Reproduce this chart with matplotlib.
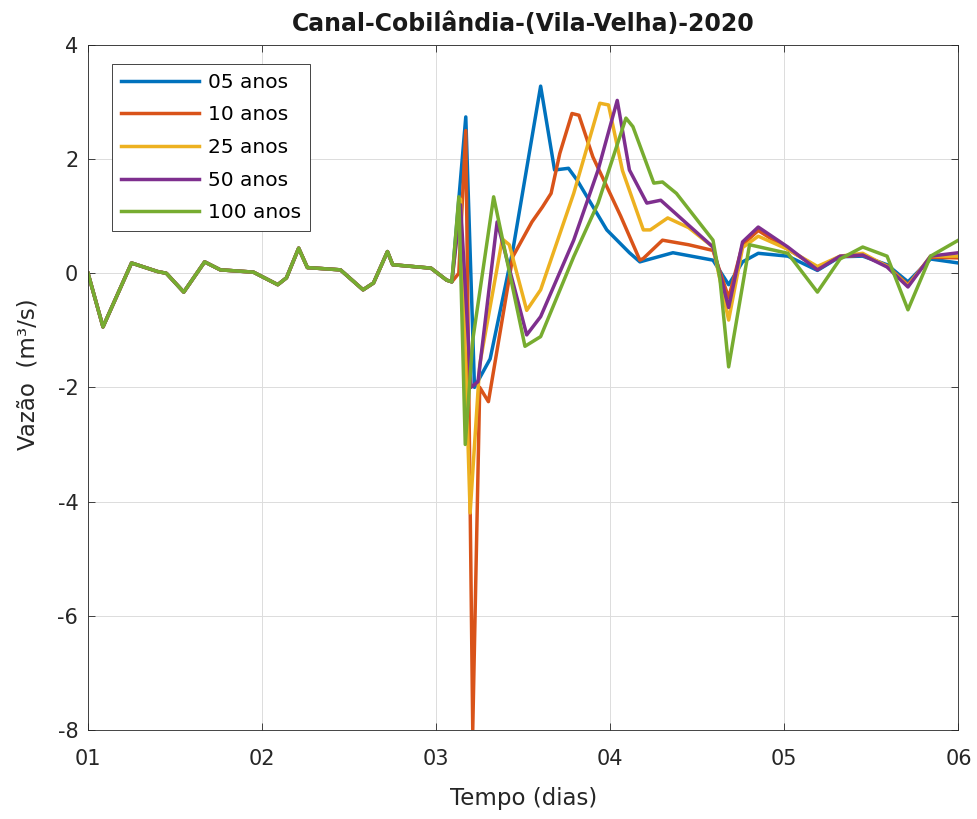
import matplotlib
matplotlib.use("Agg")
import matplotlib.pyplot as plt

plt.rcParams["font.family"] = ["DejaVu Sans"]
plt.rcParams["axes.unicode_minus"] = False

# common start (all return periods overlap before day 3)
t_base = [1.00, 1.086, 1.25, 1.40, 1.45, 1.55, 1.67, 1.76, 1.95, 2.09, 2.14, 2.21,
          2.26, 2.45, 2.58, 2.64, 2.72, 2.75, 2.97, 3.06, 3.09]
q_base = [0.00, -0.94, 0.18, 0.03, 0.00, -0.33, 0.20, 0.06, 0.02, -0.20, -0.08, 0.44,
          0.10, 0.06, -0.29, -0.17, 0.38, 0.15, 0.09, -0.12, -0.15]

t_05 = [3.17, 3.22, 3.31, 3.44, 3.60, 3.68, 3.76, 3.81, 3.98, 4.11, 4.17, 4.36, 4.59,
        4.68, 4.76, 4.85, 5.02, 5.19, 5.32, 5.45, 5.59, 5.71, 5.84, 6.00]
q_05 = [2.74, -2.00, -1.50, 0.40, 3.28, 1.81, 1.84, 1.63, 0.76, 0.36, 0.20, 0.36, 0.23,
        -0.20, 0.20, 0.35, 0.30, 0.05, 0.29, 0.30, 0.15, -0.15, 0.25, 0.18]

t_10 = [3.13, 3.17, 3.21, 3.25, 3.30, 3.44, 3.55, 3.61, 3.66, 3.71, 3.78, 3.82, 3.90,
        4.06, 4.17, 4.19, 4.30, 4.45, 4.59,
        4.68, 4.76, 4.85, 5.02, 5.19, 5.32, 5.45, 5.59, 5.71, 5.84, 6.00]
q_10 = [0.00, 2.50, -8.00, -2.00, -2.25, 0.29, 0.90, 1.16, 1.40, 2.10, 2.80, 2.77, 2.04,
        1.00, 0.23, 0.26, 0.58, 0.50, 0.40,
        -0.43, 0.50, 0.75, 0.42, 0.10, 0.29, 0.32, 0.13, -0.20, 0.28, 0.27]

t_25 = [3.14, 3.195, 3.25, 3.38, 3.42, 3.52, 3.60, 3.79, 3.94, 3.99, 4.07, 4.19, 4.23,
        4.33, 4.45, 4.59,
        4.68, 4.76, 4.85, 5.02, 5.19, 5.32, 5.45, 5.59, 5.71, 5.84, 6.00]
q_25 = [1.30, -4.20, -1.60, 0.60, 0.50, -0.65, -0.29, 1.40, 2.98, 2.95, 1.80, 0.76, 0.76,
        0.97, 0.80, 0.46,
        -0.82, 0.45, 0.65, 0.42, 0.12, 0.30, 0.35, 0.12, -0.22, 0.30, 0.30]

t_50 = [3.14, 3.20, 3.24, 3.35, 3.52, 3.60, 3.79, 3.93, 4.04, 4.11, 4.21, 4.29, 4.59,
        4.68, 4.76, 4.85, 5.02, 5.19, 5.32, 5.45, 5.59, 5.71, 5.84, 6.00]
q_50 = [1.20, -2.00, -1.90, 0.90, -1.08, -0.76, 0.58, 1.81, 3.03, 1.81, 1.23, 1.28, 0.46,
        -0.60, 0.55, 0.81, 0.46, 0.06, 0.30, 0.32, 0.11, -0.24, 0.30, 0.36]

t_100 = [3.13, 3.167, 3.21, 3.33, 3.51, 3.60, 3.79, 3.93, 4.09, 4.13, 4.25, 4.30, 4.38,
         4.59, 4.63, 4.68, 4.80, 5.02, 5.19, 5.32, 5.45, 5.59, 5.71, 5.84, 6.00]
q_100 = [1.34, -3.00, -1.17, 1.34, -1.28, -1.11, 0.29, 1.23, 2.72, 2.57, 1.58, 1.60, 1.40,
         0.58, -0.10, -1.64, 0.50, 0.35, -0.33, 0.25, 0.46, 0.30, -0.64, 0.30, 0.58]

labels = ["05 anos", "10 anos", "25 anos", "50 anos", "100 anos"]
colors = ["#0072BD", "#D95319", "#EDB120", "#7E2F8E", "#77AC30"]
series = [(t_05, q_05), (t_10, q_10), (t_25, q_25), (t_50, q_50), (t_100, q_100)]
tick_pos = [1, 2, 3, 4, 5, 6]
tick_lab = ["01", "02", "03", "04", "05", "06"]

fig = plt.figure(figsize=(9.78, 8.19), dpi=100)
ax = fig.add_axes([0.090, 0.109, 0.890, 0.836])

for (t, q), lab, c in zip(series, labels, colors):
    ax.plot(t_base + t, q_base + q, color=c, linewidth=2.5, label=lab)

ax.set_xlim(1, 6)
ax.set_ylim(-8, 4)
ax.set_xticks(tick_pos)
ax.set_xticklabels(tick_lab)
ax.set_yticks([-8, -6, -4, -2, 0, 2, 4])
ax.tick_params(direction="in", top=True, right=True, labelsize=15, colors="#262626",
               length=5, width=0.6)
ax.tick_params(axis="x", pad=14)
ax.tick_params(axis="y", pad=7)
ax.grid(True, color="#dcdcdc", linewidth=0.7)
for s in ax.spines.values():
    s.set_color("#262626")
    s.set_linewidth(0.6)

ax.set_title("Canal-Cobilândia-(Vila-Velha)-2020", fontsize=17, fontweight="bold",
             color="#1a1a1a", pad=10)
ax.set_xlabel("Tempo (dias)", fontsize=16.5, color="#262626", labelpad=13)
ax.set_ylabel("Vazão  (m³/s)", fontsize=16.5, color="#262626", labelpad=13)
ax.yaxis.label.set_y(0.52)

leg = ax.legend(loc="upper left", bbox_to_anchor=(0.027, 0.973), fontsize=14.5,
                fancybox=False, framealpha=1, edgecolor="#262626", handlelength=3.9,
                borderpad=0.45, labelspacing=0.68, handletextpad=0.45, borderaxespad=0)
leg.get_frame().set_linewidth(0.6)

fig.savefig("out.png", dpi=100)
